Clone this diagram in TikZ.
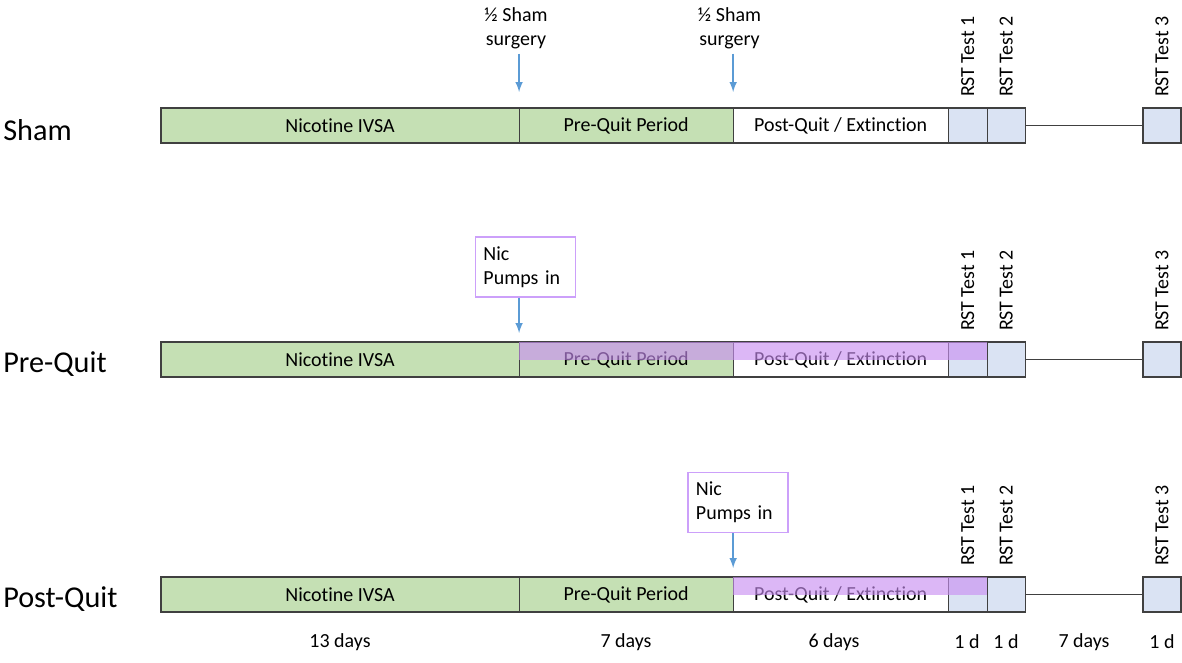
\documentclass[tikz,border=0pt]{standalone}
\usepackage{fontspec}
\setmainfont{Carlito}[Ligatures=NoCommon]
\usetikzlibrary{positioning}

\definecolor{ivsagreen}{RGB}{197,224,180}
\definecolor{rstblue}{RGB}{218,227,243}
\definecolor{shotblue}{RGB}{91,155,213}
\definecolor{pumplilac}{RGB}{201,142,242}
\definecolor{pumpframe}{RGB}{204,160,250}
\definecolor{bargray}{RGB}{64,64,64}

\newcommand\barfont{\fontsize{14.2}{17}\selectfont}
\newcommand\rowfont{\fontsize{21.5}{25}\selectfont}

\tikzset{
  seg/.style={draw=bargray, line width=0.8pt, minimum height=0.875cm,
    inner sep=0pt, outer sep=0pt, font=\barfont},
  grouplab/.style={anchor=west, inner sep=0pt, font=\rowfont},
  rstlab/.style={rotate=90, anchor=west, inner sep=0pt, font=\barfont},
  notelab/.style={align=center, font=\barfont},
  daylab/.style={font=\barfont},
  pumpbox/.style={draw=pumpframe, line width=1pt, align=left, text width=2.1cm,
    inner xsep=0.2cm, minimum height=1.5cm, font=\barfont},
  shot/.style={shotblue, line width=1.4pt},
  pumpbar/.style={fill=pumplilac, fill opacity=0.63}
}

\begin{document}
\begin{tikzpicture}[>=latex, x=0.025cm, y=-0.025cm]
\useasboundingbox (0,0) rectangle (1182,663);

% drei Zeitleisten
\foreach \r/\y/\grp in {sham/125.5/Sham, pre/359.5/Pre-Quit, post/594.5/Post-Quit}{
  \node[grouplab] (lab-\r) at (3,\y+5) {\grp};
  \node[seg, fill=ivsagreen, minimum width=8.95cm, anchor=west] (ivsa-\r) at (161,\y) {Nicotine IVSA};
  \node[seg, fill=ivsagreen, minimum width=5.35cm, right=0pt of ivsa-\r] (pq-\r) {Pre-Quit Period};
  \node[seg, fill=white, minimum width=5.375cm, right=0pt of pq-\r] (pe-\r) {Post-Quit / Extinction};
  \node[seg, fill=rstblue, minimum width=0.975cm, right=0pt of pe-\r] (t1-\r) {};
  \node[seg, fill=rstblue, minimum width=0.95cm, right=0pt of t1-\r] (t2-\r) {};
  \node[seg, fill=rstblue, minimum width=0.95cm, anchor=west] (t3-\r) at (1143,\y) {};
  \draw[bargray, line width=0.8pt] (t2-\r.east) -- (t3-\r.west);

  \node[rstlab] (rl1-\r) at ([yshift=0.27cm]t1-\r.north) {RST Test 1};
  \node[rstlab] (rl2-\r) at ([yshift=0.27cm]t2-\r.north) {RST Test 2};
  \node[rstlab] (rl3-\r) at ([yshift=0.27cm]t3-\r.north) {RST Test 3};
}

% Sham: zwei halbe Operationen
\node[notelab] (surg-a) at (516,28)   {½ Sham\\surgery};
\node[notelab] (surg-b) at (729.5,28) {½ Sham\\surgery};
\draw[->, shot] (surg-a.south -| pq-sham.west) -- ([yshift=0.4cm]pq-sham.north west);
\draw[->, shot] (surg-b.south -| pe-sham.west) -- ([yshift=0.4cm]pe-sham.north west);

% Pre-Quit: Pumpen ab Pre-Quit
\node[pumpbox] (pump-pre) at (525.5,267) {Nic\\\mbox{Pumps in}};
\draw[->, shot] (pump-pre.south -| pq-pre.west) -- ([yshift=0.225cm]pq-pre.north west);
\fill[pumpbar] (pq-pre.north west) rectangle (t1-pre.east);

% Post-Quit: Pumpen ab Post-Quit
\node[pumpbox] (pump-post) at (738,502.5) {Nic\\\mbox{Pumps in}};
\draw[->, shot] (pump-post.south -| pe-post.west) -- ([yshift=0.225cm]pe-post.north west);
\fill[pumpbar] (pe-post.north west) rectangle (t1-post.east);

% Dauer
\node[daylab] (d-ivsa) at (340,642)  {13 days};
\node[daylab] (d-pq)   at (626,642)  {7 days};
\node[daylab] (d-pe)   at (834,642)  {6 days};
\node[daylab] (d-t1)   at (967,642)  {1 d};
\node[daylab] (d-t2)   at (1006,642) {1 d};
\node[daylab] (d-gap)  at (1084,642) {7 days};
\node[daylab] (d-t3)   at (1162,642) {1 d};

\end{tikzpicture}
\end{document}
